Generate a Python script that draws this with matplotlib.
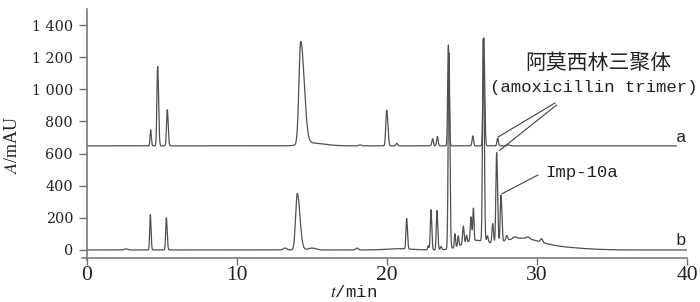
import numpy as np
import matplotlib.pyplot as plt

plt.rcParams['mathtext.fontset'] = 'stix'

# ==== trace a (offset upwards) : peaks above its own baseline ====
A_OFFSET = 648
a_rt = [4.24, 4.71, 5.35, 14.25, 14.9, 18.2, 19.98, 20.65, 23.04, 23.36,
        24.09, 25.72, 26.45, 27.38, 28.1]
a_h = [100, 495, 225, 640, 18, 6, 222, 16, 45, 58,
       628, 62, 672, 48, 5]
a_w = [0.04, 0.05, 0.05, 0.12, 0.6, 0.1, 0.06, 0.06, 0.05, 0.05,
       0.045, 0.05, 0.05, 0.05, 0.1]
a_tail = [1.2, 1.2, 1.2, 1.9, 1.5, 1, 1.3, 1, 1, 1,
          1.2, 1, 1.2, 1, 1]
A_END = 39.3

# ==== trace b : peaks + broad humps of the raised baseline ====
b_rt = [2.6, 4.22, 5.29, 13.2, 14.02, 15.0, 18.0, 20.8, 21.31, 22.75,
        22.93, 23.33, 23.6, 24.13, 24.53, 24.75, 25.09, 25.3, 25.6, 25.76,
        26.42, 26.7, 27.05, 27.31, 27.6, 27.98, 28.5, 29.4, 30.3,
        25.8, 28.8, 31.3]
b_h = [7, 220, 200, 12, 352, 12, 12, 8, 190, 25,
       250, 245, 20, 1220, 85, 65, 110, 45, 150, 200,
       1260, 40, 120, 560, 290, 30, 12, 12, 22,
       55, 68, 16]
b_w = [0.12, 0.04, 0.045, 0.12, 0.11, 0.25, 0.08, 0.8, 0.045, 0.04,
       0.045, 0.045, 0.05, 0.05, 0.04, 0.04, 0.05, 0.04, 0.05, 0.04,
       0.05, 0.05, 0.05, 0.05, 0.05, 0.06, 0.1, 0.1, 0.07,
       0.8, 1.3, 1.7]
b_tail = [1, 1.2, 1.2, 1, 1.6, 1, 1, 1, 1.2, 1,
          1.2, 1.2, 1, 1.2, 1, 1, 1, 1, 1, 1,
          1.2, 1, 1, 1.2, 1.2, 1, 1, 1, 1,
          1, 1, 1]

TRIMER_A = 13   # index in a_rt
TRIMER_B = 23   # index in b_rt
IMP10A_B = 24


def build_trace(t, rts, hs, ws, tails):
    y = np.zeros_like(t)
    for rt, h, w, k in zip(rts, hs, ws, tails):
        s = np.where(t < rt, w, w * k)
        y += h * np.exp(-0.5 * ((t - rt) / s) ** 2)
    return y


t = np.linspace(0, 40, 8001)
ya = A_OFFSET + build_trace(t, a_rt, a_h, a_w, a_tail)
yb = build_trace(t, b_rt, b_h, b_w, b_tail)
mask_a = t <= A_END

fig = plt.figure(figsize=(7, 3.02), dpi=100)
ax = fig.add_axes([0.1243, 0.1457, 0.8571, 0.8245])

line_col = '#505050'
ax.plot(t, yb, color=line_col, lw=0.9)
ax.plot(t[mask_a], ya[mask_a], color=line_col, lw=0.9)

ax.set_xlim(0, 40)
ax.set_ylim(-50, 1500)

for s in ['top', 'right']:
    ax.spines[s].set_visible(False)
for s in ['left', 'bottom']:
    ax.spines[s].set_color('#707070')
    ax.spines[s].set_linewidth(1.1)
ax.spines['bottom'].set_bounds(-0.35, 40)
ax.spines['left'].set_bounds(-60, 1500)

yt = [0, 200, 400, 600, 800, 1000, 1200, 1400]
ax.set_yticks(yt)
ax.set_yticklabels([f"{v:,}".replace(',', ' ') for v in yt],
                   fontfamily='DejaVu Serif', fontsize=10.3, color='#222222')
xt = [0, 10, 20, 30, 40]
ax.set_xticks(xt)
ax.set_xticklabels([str(v) for v in xt], fontfamily='Liberation Serif',
                   fontsize=15.5, color='#222222')
ax.tick_params(axis='y', direction='out', length=6, width=1, color='#707070', pad=4)
ax.tick_params(axis='x', direction='out', length=5, width=1, color='#707070', pad=0.5)

ax.set_ylabel('$A$/mAU', fontfamily='Liberation Serif', fontsize=13, color='#222222')
ax.yaxis.set_label_coords(-0.125, 0.454)
ax.yaxis.label.set_va('center')
ax.set_xlabel('$t$/min', fontfamily='Liberation Mono', fontsize=12.5, color='#222222')
ax.xaxis.set_label_coords(0.445, -0.137)
ax.xaxis.label.set_va('center')

mono = dict(fontfamily='Liberation Mono', fontsize=12.5, color='#222222')
ax.text(39.6, 700, 'a', ha='center', va='center', **mono)
ax.text(39.6, 62, 'b', ha='center', va='center', **mono)

ax.text(34.1, 1164, '阿莫西林三聚体', ha='center', va='center',
        fontfamily=['Noto Sans CJK SC', 'DejaVu Sans'], fontsize=15, color='#222222')
ax.text(33.8, 1014, '(amoxicillin trimer)', ha='center', va='center',
        clip_on=False, **mono)
ax.text(33.0, 485, 'Imp-10a', ha='center', va='center', **mono)

lk = dict(color='#404040', lw=0.8)
ax.plot([31.2, a_rt[TRIMER_A] + 0.04], [915, A_OFFSET + a_h[TRIMER_A] + 8], **lk)
ax.plot([31.3, b_rt[TRIMER_B] + 0.2], [902, b_h[TRIMER_B] + 60], **lk)
ax.plot([30.07, b_rt[IMP10A_B] + 0.07], [467, b_h[IMP10A_B] + 60], **lk)

fig.savefig('out.png', dpi=100)
